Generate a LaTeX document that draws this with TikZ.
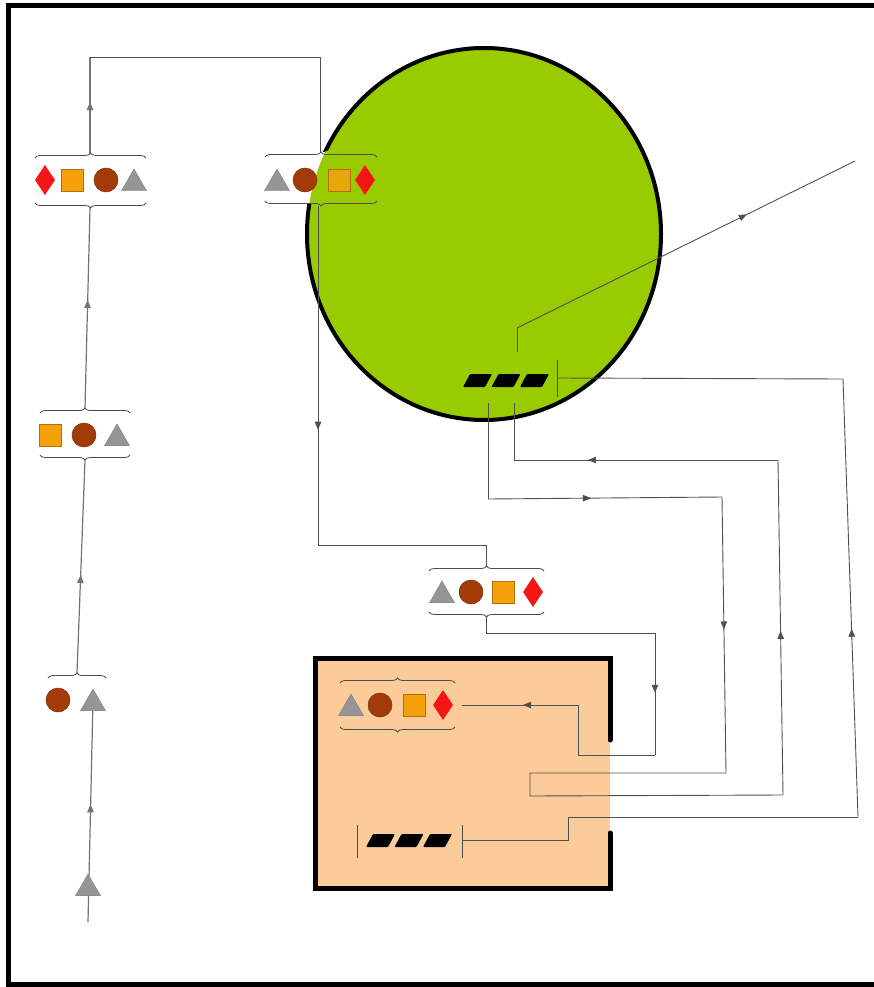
\documentclass[tikz,border=0pt]{standalone}
\usetikzlibrary{shapes.geometric,decorations.pathreplacing,decorations.markings,arrows.meta}
\definecolor{leaf}{HTML}{99CC00}
\definecolor{peach}{HTML}{FBCB9A}
\definecolor{trig}{HTML}{959595}
\definecolor{bead}{HTML}{A33A0A}
\definecolor{sqr}{HTML}{F7A10A}
\definecolor{dia}{HTML}{F51515}
\definecolor{wire}{HTML}{505050}
\newcommand{\genebars}[2]{\foreach \i in {0,1,2}{\fill[black,rounded corners=1pt] ({#1+\i*28.5},#2) -- ++(22,0) -- ++(7,-13) -- ++(-22,0) -- cycle;}}
\tikzset{
 trishape/.style={regular polygon, regular polygon sides=3, fill=trig, draw=trig!85!black, line width=0.4pt, inner sep=0pt, minimum size=29pt, yshift=-3.5pt},
 beadshape/.style={circle, fill=bead, draw=bead!80!black, line width=0.5pt, inner sep=0pt, minimum size=24pt},
 sqshape/.style={rectangle, fill=sqr, draw=sqr!70!black, line width=0.5pt, inner sep=0pt, minimum size=22pt},
 diashape/.style={diamond, fill=dia, inner sep=0pt, minimum width=20pt, minimum height=30pt},
 brc/.style={decorate, decoration={brace, amplitude=5pt}, draw=black!70, line width=0.8pt},
 wirel/.style={draw=wire, line width=0.9pt},
 coll/.style={draw=black!55, line width=1.2pt},
 arr/.style={postaction={decorate}, decoration={markings, mark=at position #1 with {\arrow{Triangle[length=8pt,width=6.5pt]}}}},
 tickline/.style={draw=black!70, line width=1pt}
}
\begin{document}
\begin{tikzpicture}[x=1pt,y=-1pt]
\useasboundingbox (0,0) rectangle (874,987);
% frame
\draw[line width=5pt] (874,6) -- (8,6) -- (8,984) -- (874,984);

% cell (green)
\node[ellipse, draw=black, fill=leaf, line width=4pt, inner sep=0pt, minimum width=354pt, minimum height=372pt] (cell) at (484,234) {};
\begin{scope}
 \clip (262,152) rectangle (381,203);
 \fill[white] (262,152) rectangle (381,203);
 \fill[leaf] (484,234) ellipse [x radius=177pt, y radius=186pt];
\end{scope}

% box (peach)
\node[rectangle, fill=peach, inner sep=0pt, minimum width=295pt, minimum height=230pt] (cellbox) at (462.5,773) {};
\draw[line width=5pt, line cap=round] (610,740) -- (610,658) -- (315,658) -- (315,888) -- (610,888) -- (610,833);

% coordinates
\coordinate (L0) at (88,922);
\coordinate (g3top) at (77,673);
\coordinate (g2bot) at (85,460);
\coordinate (g2top) at (85,408);
\coordinate (g1bot) at (90,208);
\coordinate (g1top) at (90,153);
\coordinate (c1) at (90,57);
\coordinate (c2) at (320,57);
\coordinate (g4top) at (320,152);
\coordinate (g4bot) at (318,206);
\coordinate (c3) at (318,545);
\coordinate (c4) at (486,545);
\coordinate (g5top) at (486,566);
\coordinate (g5bot) at (486,617);
\coordinate (c5) at (486,633);
\coordinate (c6) at (655,633);
\coordinate (c7) at (655,755);
\coordinate (c8) at (578,755);
\coordinate (c9) at (578,705);
\coordinate (g6in) at (462,705);
% gene in cell
\coordinate (gA) at (488,403);
\coordinate (a1) at (488,499);
\coordinate (a2) at (722,497);
\coordinate (a3) at (726,773);
\coordinate (a4) at (530,773);
\coordinate (a5) at (530,796);
\coordinate (a6) at (783,795);
\coordinate (a7) at (778,460);
\coordinate (a8) at (514,460);
\coordinate (gB) at (514,403);
\coordinate (tk) at (557,378);
\coordinate (b1) at (843,379);
\coordinate (b2) at (858,817);
\coordinate (b3) at (568,817);
\coordinate (b4) at (568,840);
\coordinate (tk2) at (462,840);
\coordinate (d0) at (517,352);
\coordinate (d1) at (517,328);
\coordinate (d2) at (855,161);

% left column
\draw[coll, arr=0.53] (L0) -- (93,700);
\draw[coll, arr=0.46] (g3top) -- (g2bot);
\draw[coll, arr=0.54] (g2top) -- (g1bot);
\draw[coll, arr=0.53] (g1top) -- (c1);
\draw[wirel] (c1) -- (c2) -- (g4top);
\draw[wirel, arr=0.66] (g4bot) -- (c3);
\draw[wirel] (c3) -- (c4) -- (g5top);
\draw[wirel] (g5bot) -- (c5) -- (c6);
\draw[wirel, arr=0.49] (c6) -- (c7);
\draw[wirel] (c7) -- (c8) -- (c9);
\draw[wirel, arr=0.474] (c9) -- (g6in);

% loop from gene through box
\draw[wirel] (gA) -- (a1);
\draw[wirel, arr=0.44] (a1) -- (a2);
\draw[wirel, arr=0.48] (a2) -- (a3);
\draw[wirel] (a3) -- (a4) -- (a5) -- (a6);
\draw[wirel, arr=0.49] (a6) -- (a7);
\draw[wirel, arr=0.72] (a7) -- (a8);
\draw[wirel] (a8) -- (gB);
% tick path
\draw[wirel] (tk) -- (b1);
\draw[wirel, arr=0.43] (b2) -- (b1);
\draw[wirel] (b2) -- (b3) -- (b4) -- (tk2);
% diagonal
\draw[wirel] (d0) -- (d1);
\draw[wirel, arr=0.68] (d1) -- (d2);

% genes
\genebars{463}{387}
\draw[tickline] (557,360) -- (557,397);
\genebars{366}{847}
\draw[tickline] (357,825) -- (357,858);
\draw[tickline] (462,825) -- (462,858);

% group 1 (left top)
\draw[brc] (35,158) -- (146,158);
\draw[brc] (146,203) -- (35,203);
\node[diashape] (g1d) at (45,180) {};
\node[sqshape] (g1s) at (72,180) {};
\node[beadshape] (g1c) at (106,180) {};
\node[trishape] (g1t) at (134,180) {};

% group 2
\draw[brc] (40,413) -- (130,413);
\draw[brc] (130,455) -- (40,455);
\node[sqshape] (g2s) at (50,435) {};
\node[beadshape] (g2c) at (84,435) {};
\node[trishape] (g2t) at (117,435) {};

% group 3
\draw[brc] (48,678) -- (106,678);
\node[beadshape] (g3c) at (58,700) {};
\node[trishape] (g3t) at (93,700) {};

% bottom triangle
\node[trishape] (t0) at (88,885) {};

% group 4 (right top)
\draw[brc] (265,157) -- (377,157);
\draw[brc] (377,201) -- (265,201);
\node[trishape] (g4t) at (277,180) {};
\node[beadshape] (g4c) at (305,180) {};
\node[sqshape, fill opacity=0.85] (g4s) at (339,180) {};
\node[diashape] (g4d) at (365,180) {};

% group 5 (middle)
\draw[brc] (429,571) -- (544,571);
\draw[brc] (544,612) -- (429,612);
\node[trishape] (g5t) at (442,592) {};
\node[beadshape] (g5c) at (471,592) {};
\node[sqshape] (g5s) at (503,592) {};
\node[diashape] (g5d) at (533,592) {};

% group 6 (in box)
\draw[brc] (340,683) -- (455,683);
\draw[brc] (455,727) -- (340,727);
\node[trishape] (g6t) at (351,705) {};
\node[beadshape] (g6c) at (380,705) {};
\node[sqshape] (g6s) at (414,705) {};
\node[diashape] (g6d) at (443,705) {};
\end{tikzpicture}
\end{document}
